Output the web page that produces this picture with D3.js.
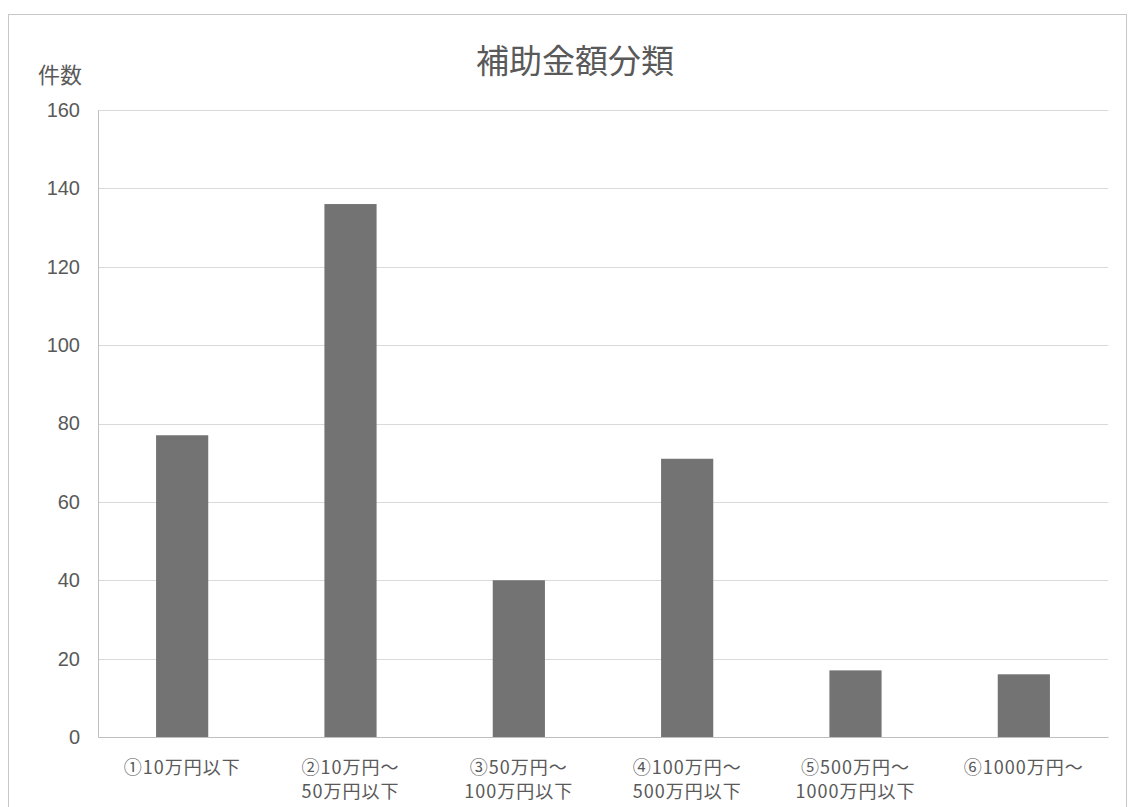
<!DOCTYPE html>
<html>
<head>
<meta charset="utf-8">
<script src="https://cdn.jsdelivr.net/npm/d3@7"></script>
<style>
  body { margin: 0; background: #fff; }
  text { font-family: "Noto Sans CJK JP", "Noto Sans", sans-serif; }
</style>
</head>
<body>
<div id="chart"></div>
<script>
const categories = [
  ['①10万円以下'],
  ['②10万円～', '50万円以下'],
  ['③50万円～', '100万円以下'],
  ['④100万円～', '500万円以下'],
  ['⑤500万円～', '1000万円以下'],
  ['⑥1000万円～']
];
const counts = [77, 136, 40, 71, 17, 16];
const yTicks = [0, 20, 40, 60, 80, 100, 120, 140, 160];

const width = 1128;
const height = 807;
const plotLeft = 98, plotRight = 1108, plotTop = 110, plotBottom = 737;

const svg = d3.select('#chart')
              .append('svg')
              .attr('width', width)
              .attr('height', height);

// chart frame
svg.append('rect')
   .attr('x', 8.5).attr('y', 14.5)
   .attr('width', 1118).attr('height', 800)
   .attr('fill', '#fff')
   .attr('stroke', '#c8c8c8');

const ids = categories.map((d, i) => i);

const xScale = d3.scaleBand()
                 .domain(ids)
                 .range([plotLeft, plotRight])
                 .paddingInner(0.69)
                 .paddingOuter(0.345);

const yScale = d3.scaleLinear()
                 .domain([0, 160])
                 .range([plotBottom, plotTop]);

// grid lines
svg.append('g')
   .selectAll('line')
   .data(yTicks.filter(t => t > 0))
   .join('line')
   .attr('x1', plotLeft).attr('x2', plotRight)
   .attr('y1', d => Math.round(yScale(d)) + 0.5)
   .attr('y2', d => Math.round(yScale(d)) + 0.5)
   .attr('stroke', '#d9d9d9');

const yAxis = d3.axisLeft(yScale)
                .tickValues(yTicks)
                .tickSize(0)
                .tickPadding(18);

const gy = svg.append('g')
              .attr('transform', 'translate(' + plotLeft + ', 0)')
              .call(yAxis);
gy.select('.domain').attr('stroke', '#bfbfbf');
gy.selectAll('text')
  .attr('font-size', 20)
  .attr('fill', '#595959')
  .style('font-family', '"Liberation Sans", Arial, sans-serif');

// bars
svg.append('g')
   .selectAll('rect')
   .data(counts)
   .join('rect')
   .attr('x', (d, i) => xScale(i))
   .attr('y', d => yScale(d))
   .attr('width', xScale.bandwidth())
   .attr('height', d => yScale(0) - yScale(d))
   .attr('fill', '#737373');

const xAxis = d3.axisBottom(xScale).tickSize(0).tickFormat('');
const gx = svg.append('g')
              .attr('transform', 'translate(0, ' + plotBottom + ')')
              .call(xAxis);
gx.select('.domain').attr('stroke', '#bfbfbf');

// two-line category labels
gx.selectAll('.tick')
  .append('text')
  .attr('fill', '#595959')
  .attr('font-size', 18)
  .attr('letter-spacing', 1)
  .attr('text-anchor', 'middle')
  .selectAll('tspan')
  .data(i => categories[i])
  .join('tspan')
  .attr('x', 0)
  .attr('y', (d, j) => 37 + j * 24)
  .text(d => d);

svg.append('text')
   .attr('x', 575).attr('y', 73)
   .attr('text-anchor', 'middle')
   .attr('font-size', 33)
   .attr('fill', '#595959')
   .text('補助金額分類');

svg.append('text')
   .attr('x', 38).attr('y', 83)
   .attr('font-size', 22)
   .attr('fill', '#595959')
   .text('件数');
</script>
</body>
</html>
